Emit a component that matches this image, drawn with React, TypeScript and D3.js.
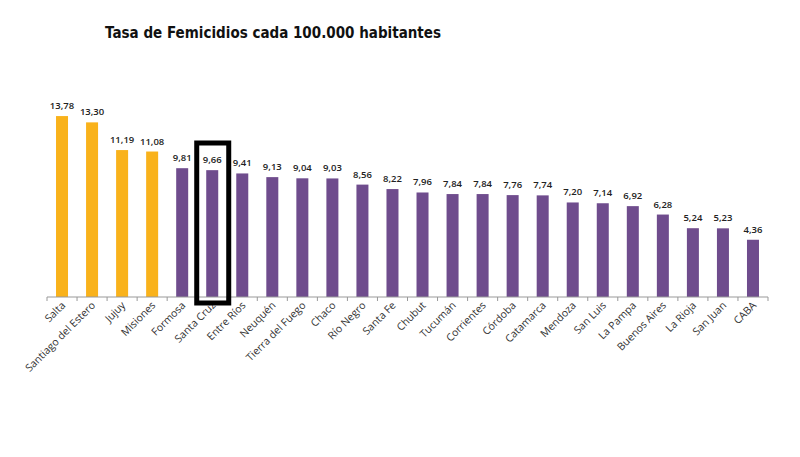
import React from "react";
import * as d3 from "d3";

const categories = ["Salta","Santiago del Estero","Jujuy","Misiones","Formosa","Santa Cruz","Entre Ríos","Neuquén","Tierra del Fuego","Chaco","Río Negro","Santa Fe","Chubut","Tucumán","Corrientes","Córdoba","Catamarca","Mendoza","San Luis","La Pampa","Buenos Aires","La Rioja","San Juan","CABA"];
const values = [13.78,13.30,11.19,11.08,9.81,9.66,9.41,9.13,9.04,9.03,8.56,8.22,7.96,7.84,7.84,7.76,7.74,7.20,7.14,6.92,6.28,5.24,5.23,4.36];
const highlighted = ["Salta","Santiago del Estero","Jujuy","Misiones"];
const boxed = "Santa Cruz";
const title = "Tasa de Femicidios cada 100.000 habitantes";

const W = 800, H = 457;
const left = 47, right = 768, base = 297;

export default function App() {
  const band = d3.scaleBand<string>().domain(categories).range([left, right]);
  const y = d3.scaleLinear().domain([0, 14]).range([base, base - 14 * 13.13]);
  const fmt = (v: number) => d3.format(".2f")(v).replace(".", ",");
  const bcx = (band(boxed) as number) + band.bandwidth() / 2;
  return (
    <svg width={W} height={H} style={{ position: "absolute", left: 0, top: 0, background: "#fff" }}>
      <rect width={W} height={H} fill="#fff" />
      <text x={105} y={38} fontFamily="'DejaVu Sans', sans-serif" fontWeight="bold" fontSize={15} fill="#111" textLength={336} lengthAdjust="spacingAndGlyphs">{title}</text>
      {categories.map((c, i) => {
        const cx = (band(c) as number) + band.bandwidth() / 2;
        const bw = 12;
        const col = highlighted.includes(c) ? "#F9B21B" : "#6F4C8D";
        return (
          <g key={c}>
            <rect x={cx - bw / 2} y={y(values[i])} width={bw} height={base - y(values[i])} fill={col} />
            <text x={cx} y={y(values[i]) - 7} textAnchor="middle" fontFamily="'Open Sans', sans-serif" fontWeight={600} fontSize={9.5} fill="#222">{fmt(values[i])}</text>
            <text transform={`translate(${cx + 4},${306}) rotate(-45)`} textAnchor="end" fontFamily="'Open Sans', sans-serif" fontSize={10.5} fill="#333">{c}</text>
          </g>
        );
      })}
      <line x1={left} x2={right} y1={base} y2={base} stroke="#999" strokeWidth={1} />
      {d3.range(categories.length + 1).map(i => {
        const tx = left + i * band.bandwidth();
        return <line key={i} x1={tx} x2={tx} y1={base} y2={base + 4} stroke="#999" />;
      })}
      <rect x={bcx - 15.5} y={143} width={32} height={160} fill="none" stroke="#000" strokeWidth={5} />
    </svg>
  );
}
